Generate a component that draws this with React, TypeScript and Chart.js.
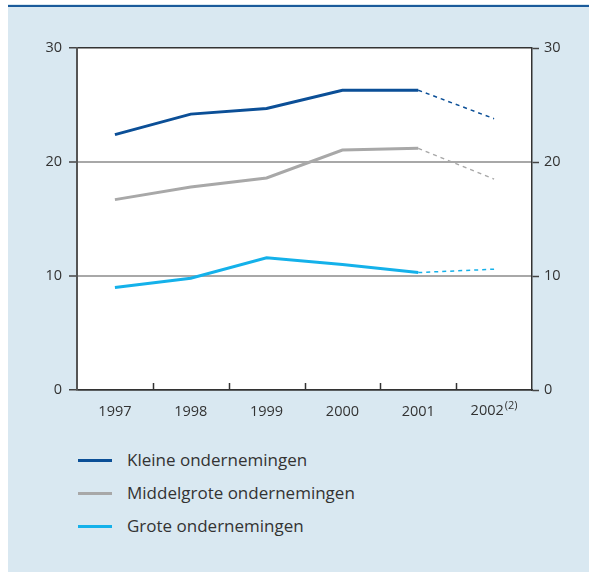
import React, { useEffect, useRef } from "react";
import { Chart, registerables } from "chart.js";
Chart.register(...registerables);

const years = ["1997", "1998", "1999", "2000", "2001", "2002"];
const footnoteYear = "2002";
const footnoteMark = "(2)";
const kleine = [22.4, 24.2, 24.7, 26.3, 26.3, 23.8];
const middelgrote = [16.7, 17.8, 18.6, 21.05, 21.2, 18.5];
const grote = [9.0, 9.8, 11.6, 11.0, 10.3, 10.6];
const yTicks = [0, 10, 20, 30];
const seriesNames = ["Kleine ondernemingen", "Middelgrote ondernemingen", "Grote ondernemingen"];
const seriesColors = ["#0b4f97", "#a8a8a8", "#14b1ea"];
const forecastFromIndex = 5;

const FONT = "'Open Sans', 'Noto Sans', sans-serif";
const TICK_SIZE = 14.5;

const decorPlugin = {
  id: "decor",
  beforeDraw(chart: any) {
    const { ctx, chartArea } = chart;
    ctx.save();
    ctx.fillStyle = "#ffffff";
    ctx.fillRect(chartArea.left, chartArea.top, chartArea.right - chartArea.left, chartArea.bottom - chartArea.top);
    ctx.restore();
  },
  afterDraw(chart: any) {
    const { ctx, chartArea } = chart;
    const xs = chart.scales.x;
    ctx.save();
    ctx.strokeStyle = "#333";
    ctx.lineWidth = 1.5;
    for (let i = 1; i < years.length; i++) {
      const x = (xs.getPixelForValue(i - 1) + xs.getPixelForValue(i)) / 2;
      ctx.beginPath();
      ctx.moveTo(Math.round(x) + 0.5, chartArea.bottom);
      ctx.lineTo(Math.round(x) + 0.5, chartArea.bottom - 7);
      ctx.stroke();
    }
    const idx = years.indexOf(footnoteYear);
    const cx = xs.getPixelForValue(idx);
    ctx.font = `${TICK_SIZE}px ${FONT}`;
    const w1 = ctx.measureText(footnoteYear).width;
    ctx.font = `11px ${FONT}`;
    const w2 = ctx.measureText(footnoteMark).width;
    const gap = 1;
    const total = w1 + gap + w2;
    const left = cx - total / 2;
    const y = chartArea.bottom + 21;
    ctx.fillStyle = "#333";
    ctx.textBaseline = "middle";
    ctx.textAlign = "left";
    ctx.font = `${TICK_SIZE}px ${FONT}`;
    ctx.fillText(footnoteYear, left, y);
    ctx.font = `11px ${FONT}`;
    ctx.fillText(footnoteMark, left + w1 + gap, y - 5);
    ctx.restore();
  },
};

function makeDataset(label: string, data: number[], color: string) {
  return {
    label,
    data,
    borderColor: color,
    backgroundColor: color,
    borderWidth: 3,
    pointRadius: 0,
    tension: 0,
    fill: false,
    segment: {
      borderDash: (c: any) => (c.p1DataIndex >= forecastFromIndex ? [4, 4] : undefined),
      borderWidth: (c: any) => (c.p1DataIndex >= forecastFromIndex ? 1.5 : undefined),
    },
  };
}

function ChartCanvas() {
  const ref = useRef<HTMLCanvasElement>(null);
  useEffect(() => {
    if (!ref.current) return;
    Chart.defaults.font.family = FONT;
    const chart = new Chart(ref.current, {
      type: "line",
      data: {
        labels: years,
        datasets: [
          makeDataset(seriesNames[0], kleine, seriesColors[0]),
          makeDataset(seriesNames[1], middelgrote, seriesColors[1]),
          makeDataset(seriesNames[2], grote, seriesColors[2]),
        ],
      },
      options: {
        animation: false,
        responsive: false,
        maintainAspectRatio: false,
        layout: { padding: { top: 41, left: 0, right: 0, bottom: 0 } },
        plugins: { legend: { display: false }, tooltip: { enabled: false } },
        scales: {
          x: {
            type: "category",
            offset: true,
            grid: { display: false, drawTicks: false },
            border: { display: true, color: "#333", width: 1.5 },
            ticks: {
              padding: 13,
              color: "#333",
              font: { size: TICK_SIZE, family: FONT },
              maxRotation: 0,
              autoSkip: false,
              callback: (v: any, i: number) => (years[i] === footnoteYear ? "" : years[i]),
            },
            afterFit: (s: any) => {
              s.height = 37;
            },
          },
          y: {
            position: "left",
            min: yTicks[0],
            max: yTicks[yTicks.length - 1],
            afterBuildTicks: (s: any) => {
              s.ticks = yTicks.map((v) => ({ value: v }));
            },
            grid: {
              color: (c: any) => (c.tick && (c.tick.value === 30 || c.tick.value === 0) ? "#333" : "#a8a8a8"),
              lineWidth: (c: any) => (c.tick && (c.tick.value === 30 || c.tick.value === 0) ? 1.5 : 2),
              tickColor: "#444",
              tickLength: 8,
              tickWidth: 1.5,
            },
            border: { display: true, color: "#555", width: 2 },
            ticks: { padding: 7, color: "#333", font: { size: TICK_SIZE, family: FONT } },
            afterFit: (s: any) => {
              s.width = 69;
            },
          },
          y2: {
            position: "right",
            min: yTicks[0],
            max: yTicks[yTicks.length - 1],
            afterBuildTicks: (s: any) => {
              s.ticks = yTicks.map((v) => ({ value: v }));
            },
            grid: {
              drawOnChartArea: false,
              drawTicks: true,
              tickColor: "#444",
              tickLength: 7,
              tickWidth: 1.5,
            },
            border: { display: true, color: "#333", width: 1.5 },
            ticks: { padding: 5, color: "#333", font: { size: TICK_SIZE, family: FONT } },
            afterFit: (s: any) => {
              s.width = 57;
            },
          },
        },
      },
      plugins: [decorPlugin],
    } as any);
    return () => chart.destroy();
  }, []);
  return <canvas ref={ref} width={581} height={420} style={{ position: "absolute", left: 8, top: 7, width: 581, height: 420 }} />;
}

export default function App() {
  return (
    <div style={{ position: "absolute", left: 0, top: 0, width: 589, height: 573, background: "#fff", overflow: "hidden" }}>
      <div style={{ position: "absolute", left: 8, top: 4, width: 581, height: 568, background: "#d9e8f1" }} />
      <div style={{ position: "absolute", left: 8, top: 5, width: 581, height: 2, background: "#1b5b9b" }} />
      <ChartCanvas />
      {seriesNames.map((name, i) => {
        const cy = 460 + i * 33;
        return (
          <div key={name}>
            <div style={{ position: "absolute", left: 78, top: cy - 1.5, width: 34, height: 3, background: seriesColors[i] }} />
            <div
              style={{
                position: "absolute",
                left: 127,
                top: cy - 12,
                height: 24,
                lineHeight: "24px",
                fontFamily: FONT,
                fontSize: 17,
                color: "#333",
                whiteSpace: "nowrap",
              }}
            >
              {name}
            </div>
          </div>
        );
      })}
    </div>
  );
}
